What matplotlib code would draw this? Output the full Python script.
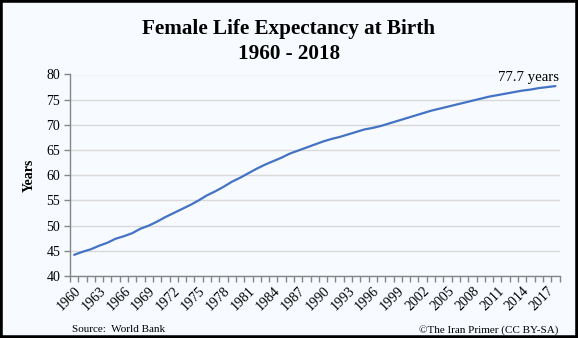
import numpy as np
import matplotlib
matplotlib.use("Agg")
import matplotlib.pyplot as plt
from matplotlib.patches import Rectangle

YEARS = list(range(1960, 2019))
LIFE_EXP = [
    44.2, 44.8, 45.3, 46.0, 46.6, 47.4, 47.9, 48.5, 49.4, 50.0,
    50.8, 51.7, 52.5, 53.3, 54.1, 55.0, 56.0, 56.8, 57.7, 58.7,
    59.5, 60.4, 61.3, 62.1, 62.8, 63.5, 64.3, 64.9, 65.5, 66.1,
    66.7, 67.2, 67.6, 68.1, 68.6, 69.1, 69.4, 69.8, 70.3, 70.8,
    71.3, 71.8, 72.3, 72.8, 73.2, 73.6, 74.0, 74.4, 74.8, 75.2,
    75.6, 75.9, 76.2, 76.5, 76.8, 77.0, 77.3, 77.5, 77.7,
]
Y_TICKS = [40, 45, 50, 55, 60, 65, 70, 75, 80]
LABEL_EVERY = 3

BG = "#F7FAFE"
LINE_COLOR = "#4472C4"
SERIF = ["Liberation Serif", "DejaVu Serif"]

plt.rcParams["font.family"] = SERIF

fig = plt.figure(figsize=(5.78, 3.38), dpi=100, facecolor=BG)
ax = fig.add_axes([70 / 578, 1 - 276 / 338, (559.5 - 70) / 578, (276 - 74.5) / 338])
ax.set_facecolor(BG)

x = np.arange(len(YEARS))
ax.plot(x, LIFE_EXP, color=LINE_COLOR, linewidth=1.6, solid_capstyle="round")

ax.set_xlim(-0.5, len(YEARS) - 0.5)
ax.set_ylim(40, 80)
ax.set_yticks(Y_TICKS)
ax.set_yticklabels([str(v) for v in Y_TICKS], fontsize=10)
ax.yaxis.grid(True, color="#D9D9D9", linewidth=1)
ax.set_axisbelow(True)

# category boundaries carry the tick marks, labels sit at the centres
ax.set_xticks(np.arange(len(YEARS) + 1) - 0.5)
ax.set_xticklabels([])
label_pos = [i for i in x if i % LABEL_EVERY == 0]
ax.set_xticks(label_pos, minor=True)
ax.set_xticklabels([str(YEARS[i]) for i in label_pos], minor=True,
                   rotation=45, ha="right", va="top", rotation_mode="anchor",
                   fontsize=10)
ax.tick_params(axis="x", which="major", length=4, color="#868686", width=1)
ax.tick_params(axis="x", which="minor", length=0, pad=6)
ax.tick_params(axis="y", length=4, color="#868686", width=1, pad=3)

for side in ["top", "right"]:
    ax.spines[side].set_visible(False)
for side in ["left", "bottom"]:
    ax.spines[side].set_color("#868686")
    ax.spines[side].set_linewidth(1)

ax.set_ylabel("Years", fontsize=10, fontweight="bold", labelpad=8)

ax.text(len(YEARS) - 0.5, 79.5, f"{LIFE_EXP[-1]} years", ha="right", va="center",
        fontsize=10.7)

fig.text(0.5, 1 - 29 / 338, "Female Life Expectancy at Birth", ha="center", va="center",
         fontsize=15.2, fontweight="bold")
fig.text(0.5, 1 - 54 / 338, "1960 - 2018", ha="center", va="center",
         fontsize=15.2, fontweight="bold")

fig.text(72 / 578, 1 - 330 / 338, "Source:  World Bank", ha="left", va="center", fontsize=8)
fig.text(558 / 578, 1 - 330 / 338, "\u00a9The Iran Primer (CC BY-SA)", ha="right",
         va="center", fontsize=8)

fig.patches.append(Rectangle((0, 0), 1, 1, transform=fig.transFigure, fill=False,
                             edgecolor="black", linewidth=4, zorder=10))

fig.savefig("out.png", dpi=100, facecolor=BG)
